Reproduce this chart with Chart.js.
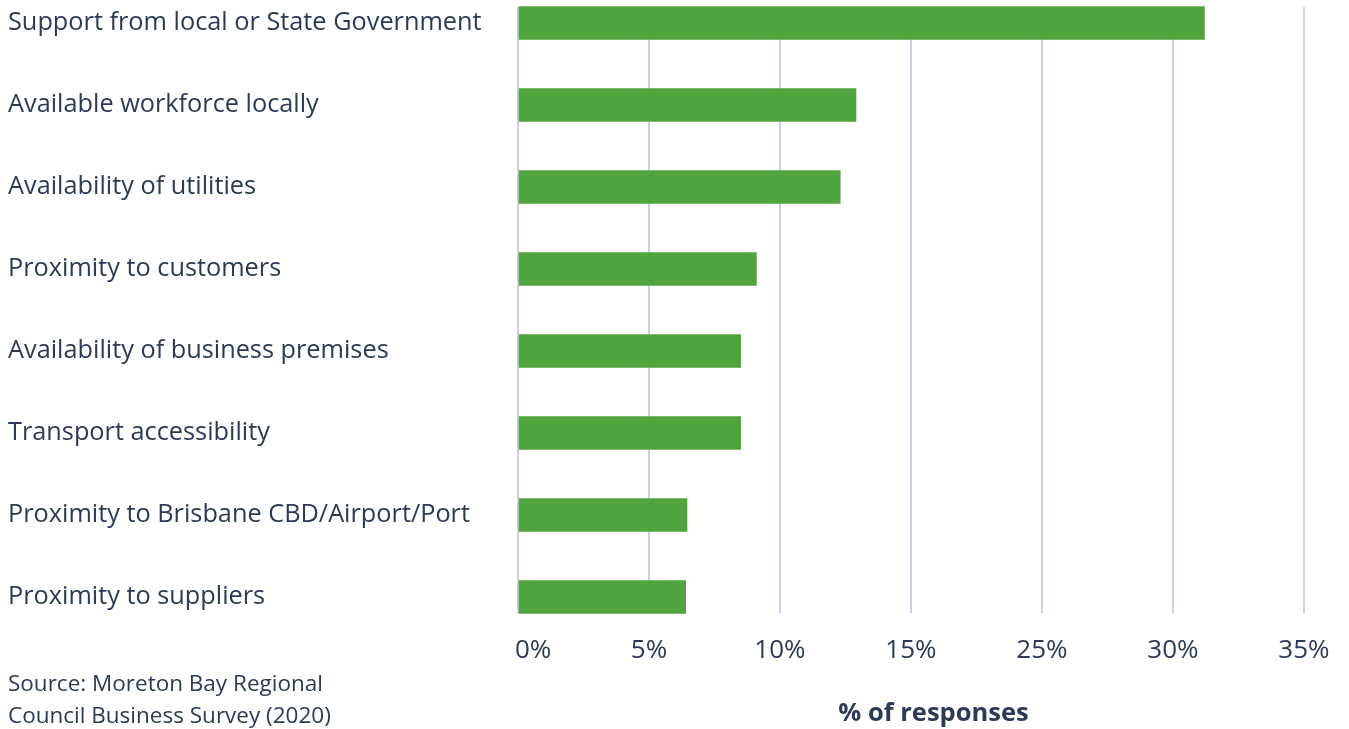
<!DOCTYPE html>
<html>
<head>
<meta charset="utf-8">
<script src="https://cdn.jsdelivr.net/npm/chart.js@4/dist/chart.umd.min.js"></script>
<style>
  html, body { margin: 0; padding: 0; background: #fff; }
  #wrap { position: relative; width: 1349px; height: 729px; }
  #source {
    position: absolute; left: 8px; top: 667px;
    font: 22.5px "Open Sans", sans-serif; line-height: 32px; color: #2c3a58;
  }
</style>
</head>
<body>
<div id="wrap">
  <canvas id="myChart" width="1349" height="729"></canvas>
  <div id="source">Source: Moreton Bay Regional<br>Council Business Survey (2020)</div>
</div>
<script>
var categories = [
  "Support from local or State Government",
  "Available workforce locally",
  "Availability of utilities",
  "Proximity to customers",
  "Availability of business premises",
  "Transport accessibility",
  "Proximity to Brisbane CBD/Airport/Port",
  "Proximity to suppliers"
];
// values in axis units (gridlines evenly spaced every 5)
var responses = [26.2, 12.9, 12.3, 9.1, 8.5, 8.5, 6.45, 6.4];
// tick labels as printed on the original axis
var tickLabels = ["\u2002\u2002\u20090%", "5%", "10%", "15%", "25%", "30%", "35%"];

var textColor = "#2c3a58";
var gridColor = "#cdcfe8";
var ctx = document.getElementById("myChart");

var data = {
  labels: categories,
  datasets: [{
    data: responses,
    backgroundColor: "#50a43e",
    barThickness: 33,
    clip: false
  }]
};

var sharedRange = { min: 0, max: 31.72 };

var options = {
  indexAxis: 'y',
  responsive: false,
  animation: false,
  layout: { padding: { left: 8, top: 7, right: 0, bottom: 0 } },
  plugins: { legend: { display: false }, tooltip: { enabled: false } },
  scales: {
    x: {
      position: 'bottom',
      min: sharedRange.min,
      max: sharedRange.max,
      border: { display: false },
      grid: { color: gridColor, lineWidth: 2, tickLength: 16 },
      ticks: {
        stepSize: 5,
        includeBounds: false,
        padding: 22,
        color: textColor,
        font: { family: 'Open Sans', size: 26 },
        callback: function(value, index) { return tickLabels[index]; }
      },
      title: {
        display: true,
        text: '% of responses',
        color: textColor,
        font: { family: 'Open Sans', size: 25.5, weight: 'bold' },
        padding: { top: 0, bottom: 0 }
      },
      afterFit: function(scale) {
        scale.height = 132;
        scale.paddingLeft = 0;
        scale.paddingRight = 0;
      }
    },
    xTop: {
      position: 'top',
      axis: 'x',
      min: sharedRange.min,
      max: sharedRange.max,
      border: { display: false },
      grid: { color: gridColor, lineWidth: 2, tickLength: 16, drawOnChartArea: false },
      ticks: { stepSize: 5, includeBounds: false, display: false }
    },
    y: {
      offset: false,
      border: { display: false },
      grid: { display: false, drawTicks: false },
      ticks: {
        crossAlign: 'far',
        color: textColor,
        font: { family: 'Open Sans', size: 25.3 }
      },
      afterFit: function(scale) { scale.width = 510; }
    }
  }
};

var myChart = new Chart(ctx, { type: 'bar', data: data, options: options });
</script>
</body>
</html>
